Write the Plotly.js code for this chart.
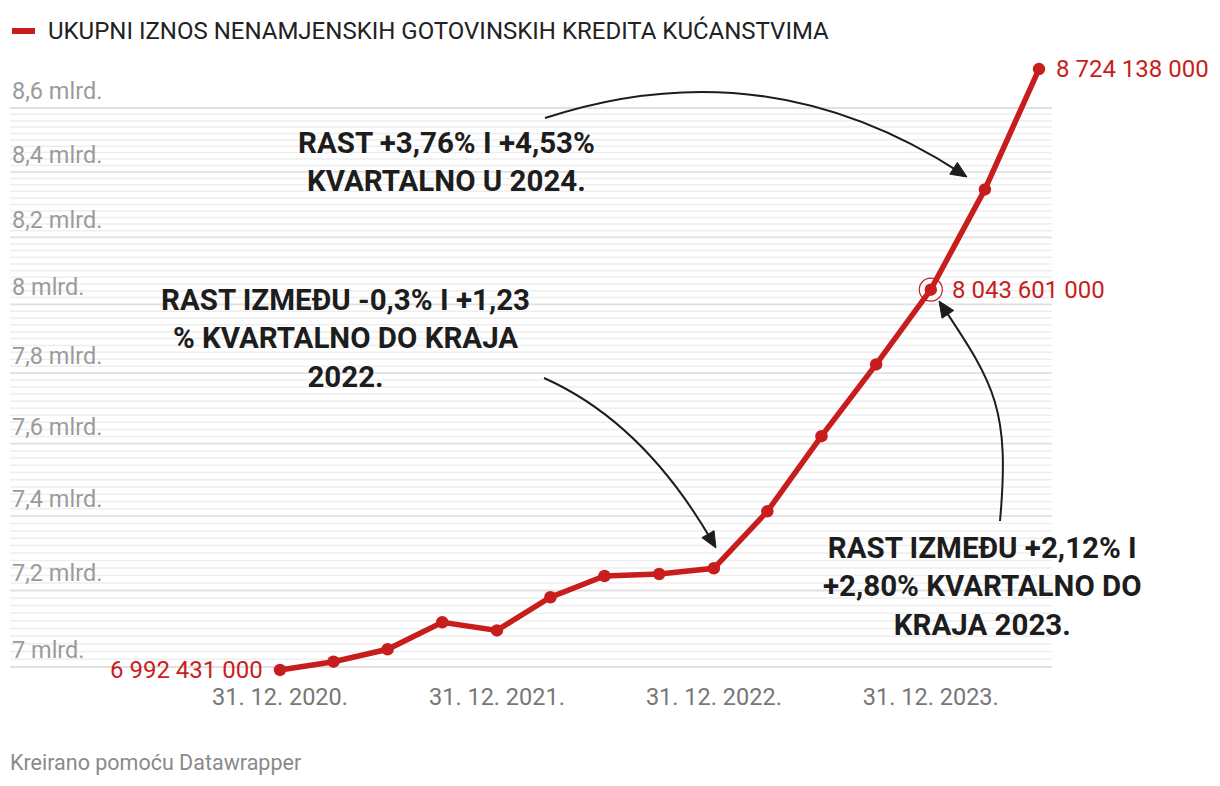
<!DOCTYPE html>
<html>
<head>
<meta charset="utf-8">
<script src="https://cdn.plot.ly/plotly-3.0.1.min.js"></script>
<style>
  html, body { margin: 0; padding: 0; background: #ffffff; }
  #chart { width: 1220px; height: 786px; }
</style>
</head>
<body>
<div id="chart"></div>
<script>
// ---------- DATA ----------
const seriesName = 'UKUPNI IZNOS NENAMJENSKIH GOTOVINSKIH KREDITA KUĆANSTVIMA';
const dates = ['2020-12-31','2021-03-31','2021-06-30','2021-09-30','2021-12-31','2022-03-31','2022-06-30','2022-09-30','2022-12-31','2023-03-31','2023-06-30','2023-09-30','2023-12-31','2024-03-31','2024-06-30'];
const values = [6992431000, 7013700000, 7045800000, 7116200000, 7094900000, 7182200000, 7238600000, 7243900000, 7259200000, 7413000000, 7621000000, 7825000000, 8043601000, 8346000000, 8724138000];
const labeledIdx = [0, 12, 14];
const highlightIdx = [12];
const xTickDates = ['2020-12-31','2021-12-31','2022-12-31','2023-12-31'];
const xTickLabels = ['31. 12. 2020.','31. 12. 2021.','31. 12. 2022.','31. 12. 2023.'];
const yTickValues = [7e9, 7.2e9, 7.4e9, 7.6e9, 7.8e9, 8e9, 8.2e9, 8.4e9, 8.6e9];
const yTickLabels = ['7 mlrd.','7,2 mlrd.','7,4 mlrd.','7,6 mlrd.','7,8 mlrd.','8 mlrd.','8,2 mlrd.','8,4 mlrd.','8,6 mlrd.'];
const noteTexts = [
  'RAST +3,76% I +4,53%<br>KVARTALNO U 2024.',
  'RAST IZMEĐU -0,3% I +1,23<br>% KVARTALNO DO KRAJA<br>2022.',
  'RAST IZMEĐU +2,12% I<br>+2,80% KVARTALNO DO<br>KRAJA 2023.'
];
const footerText = 'Kreirano pomoću Datawrapper';

// ---------- STYLE / LAYOUT HELPERS ----------
const RED = '#c71e1d';
const FONT = 'Roboto, "Noto Sans", sans-serif';
const M = {l: 10, r: 168, t: 60, b: 106};
const PW = 1220 - M.l - M.r, PH = 786 - M.t - M.b;
const YR = [9.843018, 9.942176];
const xp = px => (px - M.l) / PW;
const yp = py => (M.t + PH - py) / PH;
const yv = v => (Math.log10(v) - YR[0]) / (YR[1] - YR[0]);   // value -> paper y
const fmt = v => String(v).replace(/\B(?=(\d{3})+(?!\d))/g, ' ');

const shapes = [];
// grid lines (every 20 mil., stronger every 200 mil.) up to the top tick
const gridStep = 2e7, gridMin = 7e9, gridMax = 8.6e9;
for (let i = 0; gridMin + i * gridStep <= gridMax + 1; i++) {
  const v = gridMin + i * gridStep;
  const major = i % 10 === 0;
  shapes.push({type: 'line', xref: 'paper', yref: 'paper', x0: 0, x1: 1,
    y0: yv(v), y1: yv(v), layer: 'below',
    line: {color: major ? '#e0e0e0' : '#eeeeee', width: major ? 1.8 : 1.5}});
}
// legend swatch
shapes.push({type: 'line', xref: 'paper', yref: 'paper', x0: xp(12), x1: xp(35), y0: yp(31), y1: yp(31),
  line: {color: RED, width: 6}});

// curved arrows (pixel geometry -> paper)
function arrowShapes(pts) {
  const n = pts.length;
  const end = pts[n - 1], prev = pts[n - 2];
  let dx = end[0] - prev[0], dy = end[1] - prev[1];
  const L = Math.hypot(dx, dy); dx /= L; dy /= L;
  const hl = 16, hw = 7;
  const base = [end[0] - hl * dx, end[1] - hl * dy];
  const stop = [end[0] - 8 * dx, end[1] - 8 * dy];
  const P = p => xp(p[0]).toFixed(5) + ',' + yp(p[1]).toFixed(5);
  let d = 'M' + P(pts[0]);
  if (n === 3) d += ' Q' + P(pts[1]) + ' ' + P(stop);
  else d += ' C' + P(pts[1]) + ' ' + P(pts[2]) + ' ' + P(stop);
  const px_ = -dy, py_ = dx;
  const tri = 'M' + P(end) + ' L' + P([base[0] + hw * px_, base[1] + hw * py_]) +
              ' L' + P([base[0] - hw * px_, base[1] - hw * py_]) + ' Z';
  return [
    {type: 'path', xref: 'paper', yref: 'paper', path: d, line: {color: '#1d1d1d', width: 2}},
    {type: 'path', xref: 'paper', yref: 'paper', path: tri, fillcolor: '#1d1d1d', line: {color: '#1d1d1d', width: 1}}
  ];
}
shapes.push(...arrowShapes([[545, 118], [765, 46], [967, 177]]));
shapes.push(...arrowShapes([[544, 378], [643, 422], [716, 548]]));
shapes.push(...arrowShapes([[1000, 521], [1010, 410], [995, 385], [939, 301]]));

const annotations = [];
// y tick labels above grid lines
yTickValues.forEach((v, i) => annotations.push({
  xref: 'paper', yref: 'paper', x: 0, y: yv(v), xanchor: 'left', yanchor: 'bottom',
  yshift: 1, showarrow: false, text: yTickLabels[i],
  font: {family: FONT, size: 23.5, color: '#9b9b9b'}
}));
// value labels
labeledIdx.forEach(i => {
  const left = i === 0;
  annotations.push({
    xref: 'x', yref: 'paper', x: dates[i], y: yv(values[i]),
    xanchor: left ? 'right' : 'left', yanchor: 'middle',
    xshift: left ? -15 : (i === 12 ? 19 : 15), showarrow: false, text: fmt(values[i]),
    font: {family: FONT, size: 24, color: RED}
  });
});
// notes
const notePos = [[446, 162], [345, 338], [982, 586]];
noteTexts.forEach((t, i) => annotations.push({
  xref: 'paper', yref: 'paper', x: xp(notePos[i][0]), y: yp(notePos[i][1]),
  xanchor: 'center', yanchor: 'middle', align: 'center', showarrow: false, text: t,
  font: {family: FONT, size: 29.5, color: '#1d1d1d', weight: 700}
}));
// legend text
annotations.push({xref: 'paper', yref: 'paper', x: xp(46), y: yp(31), xanchor: 'left', yanchor: 'middle',
  showarrow: false, text: seriesName, font: {family: FONT, size: 24, color: '#222222'}});
// footer
annotations.push({xref: 'paper', yref: 'paper', x: xp(8), y: yp(762), xanchor: 'left', yanchor: 'middle',
  showarrow: false, text: footerText, font: {family: FONT, size: 21.5, color: '#8a8a8a'}});

const traces = [
  {type: 'scatter', mode: 'lines+markers', x: dates, y: values, name: seriesName,
   line: {color: RED, width: 5.5}, marker: {color: RED, size: 12.5}, cliponaxis: false,
   hoverinfo: 'skip', showlegend: false},
  {type: 'scatter', mode: 'markers', x: highlightIdx.map(i => dates[i]), y: highlightIdx.map(i => values[i]),
   marker: {symbol: 'circle-open', size: 23, color: RED, line: {width: 1.2, color: RED}},
   cliponaxis: false, hoverinfo: 'skip', showlegend: false}
];

const layout = {
  width: 1220, height: 786,
  margin: M,
  paper_bgcolor: '#ffffff', plot_bgcolor: 'rgba(0,0,0,0)',
  font: {family: FONT},
  showlegend: false,
  xaxis: {type: 'date', range: ['2019-10-03 17:00', '2024-07-21 22:00'],
    tickvals: xTickDates, ticktext: xTickLabels, ticks: '', showgrid: false, zeroline: false,
    showline: false, tickfont: {family: FONT, size: 23.5, color: '#777777'}, fixedrange: true},
  yaxis: {type: 'log', range: YR, showticklabels: false, showgrid: false,
    zeroline: false, showline: false, ticks: '', fixedrange: true},
  shapes: shapes,
  annotations: annotations
};

Plotly.newPlot('chart', traces, layout, {displayModeBar: false, staticPlot: true});
</script>
</body>
</html>
